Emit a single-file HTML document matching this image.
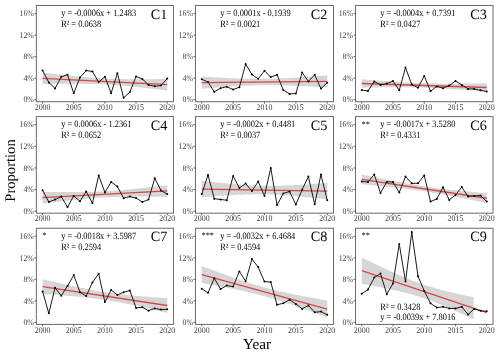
<!DOCTYPE html>
<html><head><meta charset="utf-8"><style>
html,body{margin:0;padding:0;background:#fff;width:500px;height:354px;overflow:hidden}
svg{display:block;will-change:transform}
text{font-family:"Liberation Serif",serif;text-rendering:geometricPrecision}
.ax{font-size:7.9px;fill:#404040}
.eq{font-size:8.4px;fill:#000}
.ti{font-size:14.2px;fill:#000}
.lab{font-size:14.6px;fill:#000}
</style></head><body>
<svg width="500" height="354" viewBox="0 0 500 354">
<polygon points="42.58,72.55 44.14,72.74 45.70,72.92 47.26,73.11 48.81,73.29 50.37,73.47 51.93,73.65 53.49,73.83 55.05,74.01 56.60,74.19 58.16,74.36 59.72,74.54 61.28,74.71 62.84,74.88 64.39,75.06 65.95,75.22 67.51,75.39 69.07,75.56 70.62,75.72 72.18,75.88 73.74,76.04 75.30,76.20 76.86,76.35 78.41,76.51 79.97,76.66 81.53,76.80 83.09,76.95 84.65,77.09 86.20,77.22 87.76,77.35 89.32,77.48 90.88,77.61 92.44,77.73 93.99,77.85 95.55,77.96 97.11,78.06 98.67,78.17 100.23,78.26 101.78,78.36 103.34,78.44 104.90,78.53 106.46,78.60 108.02,78.68 109.57,78.74 111.13,78.81 112.69,78.86 114.25,78.92 115.81,78.97 117.36,79.01 118.92,79.05 120.48,79.08 122.04,79.11 123.60,79.14 125.15,79.16 126.71,79.18 128.27,79.20 129.83,79.22 131.39,79.23 132.94,79.23 134.50,79.24 136.06,79.24 137.62,79.24 139.18,79.24 140.73,79.24 142.29,79.23 143.85,79.22 145.41,79.21 146.96,79.20 148.52,79.19 150.08,79.18 151.64,79.16 153.20,79.15 154.13,79.13 154.75,79.13 156.31,79.11 157.87,79.09 159.43,79.07 160.99,79.05 162.54,79.02 164.10,79.00 165.66,78.98 167.22,78.95 167.22,90.47 165.66,90.28 164.10,90.10 162.54,89.91 160.99,89.73 159.43,89.55 157.87,89.37 156.31,89.19 154.75,89.01 154.13,88.94 153.20,88.83 151.64,88.66 150.08,88.48 148.52,88.31 146.96,88.13 145.41,87.96 143.85,87.79 142.29,87.63 140.73,87.46 139.18,87.30 137.62,87.14 136.06,86.98 134.50,86.82 132.94,86.66 131.39,86.51 129.83,86.36 128.27,86.22 126.71,86.07 125.15,85.93 123.60,85.80 122.04,85.66 120.48,85.54 118.92,85.41 117.36,85.29 115.81,85.17 114.25,85.06 112.69,84.95 111.13,84.85 109.57,84.75 108.02,84.66 106.46,84.57 104.90,84.49 103.34,84.41 101.78,84.34 100.23,84.27 98.67,84.21 97.11,84.15 95.55,84.10 93.99,84.05 92.44,84.01 90.88,83.97 89.32,83.94 87.76,83.91 86.20,83.88 84.65,83.85 83.09,83.83 81.53,83.82 79.97,83.80 78.41,83.79 76.86,83.79 75.30,83.78 73.74,83.78 72.18,83.78 70.62,83.78 69.07,83.78 67.51,83.79 65.95,83.80 64.39,83.81 62.84,83.82 61.28,83.83 59.72,83.84 58.16,83.86 56.60,83.87 55.05,83.89 53.49,83.91 51.93,83.93 50.37,83.95 48.81,83.97 47.26,84.00 45.70,84.02 44.14,84.04 42.58,84.07" fill="#d6d6d6"/>
<line x1="42.58" y1="78.31" x2="167.22" y2="84.71" stroke="#d64646" stroke-width="1.3"/>
<polyline points="42.58,70.50 48.81,82.40 55.05,88.40 61.28,76.80 67.51,74.70 73.74,93.30 79.97,77.50 86.20,70.50 92.44,71.50 98.67,82.10 104.90,76.70 111.13,93.20 117.36,73.30 123.60,97.80 129.83,92.20 136.06,76.50 142.29,78.90 148.52,84.90 154.75,86.30 160.99,85.60 167.22,78.60" fill="none" stroke="#1a1a1a" stroke-width="1.0" stroke-linejoin="round"/>
<circle cx="42.58" cy="70.50" r="1.0" fill="#000"/>
<circle cx="48.81" cy="82.40" r="1.0" fill="#000"/>
<circle cx="55.05" cy="88.40" r="1.0" fill="#000"/>
<circle cx="61.28" cy="76.80" r="1.0" fill="#000"/>
<circle cx="67.51" cy="74.70" r="1.0" fill="#000"/>
<circle cx="73.74" cy="93.30" r="1.0" fill="#000"/>
<circle cx="79.97" cy="77.50" r="1.0" fill="#000"/>
<circle cx="86.20" cy="70.50" r="1.0" fill="#000"/>
<circle cx="92.44" cy="71.50" r="1.0" fill="#000"/>
<circle cx="98.67" cy="82.10" r="1.0" fill="#000"/>
<circle cx="104.90" cy="76.70" r="1.0" fill="#000"/>
<circle cx="111.13" cy="93.20" r="1.0" fill="#000"/>
<circle cx="117.36" cy="73.30" r="1.0" fill="#000"/>
<circle cx="123.60" cy="97.80" r="1.0" fill="#000"/>
<circle cx="129.83" cy="92.20" r="1.0" fill="#000"/>
<circle cx="136.06" cy="76.50" r="1.0" fill="#000"/>
<circle cx="142.29" cy="78.90" r="1.0" fill="#000"/>
<circle cx="148.52" cy="84.90" r="1.0" fill="#000"/>
<circle cx="154.75" cy="86.30" r="1.0" fill="#000"/>
<circle cx="160.99" cy="85.60" r="1.0" fill="#000"/>
<circle cx="167.22" cy="78.60" r="1.0" fill="#000"/>
<rect x="36.35" y="5.50" width="137.10" height="96.20" fill="none" stroke="#6a6a6a" stroke-width="1.0"/>
<line x1="34.35" y1="99.70" x2="36.35" y2="99.70" stroke="#444" stroke-width="0.8"/>
<text transform="translate(33.95,102.40) scale(1,1.1)" text-anchor="end" class="ax">0%</text>
<line x1="34.35" y1="78.17" x2="36.35" y2="78.17" stroke="#444" stroke-width="0.8"/>
<text transform="translate(33.95,80.88) scale(1,1.1)" text-anchor="end" class="ax">4%</text>
<line x1="34.35" y1="56.65" x2="36.35" y2="56.65" stroke="#444" stroke-width="0.8"/>
<text transform="translate(33.95,59.35) scale(1,1.1)" text-anchor="end" class="ax">8%</text>
<line x1="34.35" y1="35.12" x2="36.35" y2="35.12" stroke="#444" stroke-width="0.8"/>
<text transform="translate(33.95,37.83) scale(1,1.1)" text-anchor="end" class="ax">12%</text>
<line x1="34.35" y1="13.60" x2="36.35" y2="13.60" stroke="#444" stroke-width="0.8"/>
<text transform="translate(33.95,16.30) scale(1,1.1)" text-anchor="end" class="ax">16%</text>
<line x1="42.58" y1="101.70" x2="42.58" y2="103.70" stroke="#444" stroke-width="0.8"/>
<text transform="translate(42.58,109.90) scale(1,1.1)" text-anchor="middle" class="ax">2000</text>
<line x1="73.74" y1="101.70" x2="73.74" y2="103.70" stroke="#444" stroke-width="0.8"/>
<text transform="translate(73.74,109.90) scale(1,1.1)" text-anchor="middle" class="ax">2005</text>
<line x1="104.90" y1="101.70" x2="104.90" y2="103.70" stroke="#444" stroke-width="0.8"/>
<text transform="translate(104.90,109.90) scale(1,1.1)" text-anchor="middle" class="ax">2010</text>
<line x1="136.06" y1="101.70" x2="136.06" y2="103.70" stroke="#444" stroke-width="0.8"/>
<text transform="translate(136.06,109.90) scale(1,1.1)" text-anchor="middle" class="ax">2015</text>
<line x1="167.22" y1="101.70" x2="167.22" y2="103.70" stroke="#444" stroke-width="0.8"/>
<text transform="translate(167.22,109.90) scale(1,1.1)" text-anchor="middle" class="ax">2020</text>
<text transform="translate(61.15,16.30) scale(1,1.15)" class="eq">y = -0.0006x + 1.2483</text>
<text transform="translate(61.15,26.80) scale(1,1.15)" class="eq">R² = 0.0638</text>
<text x="167.25" y="18.60" text-anchor="end" class="ti">C1</text>
<polygon points="201.72,76.61 203.29,76.70 204.86,76.80 206.43,76.89 208.00,76.98 209.57,77.07 211.14,77.16 212.71,77.25 214.28,77.34 215.84,77.42 217.41,77.51 218.98,77.59 220.55,77.68 222.12,77.76 223.69,77.84 225.26,77.91 226.82,77.99 228.39,78.06 229.96,78.14 231.53,78.21 233.10,78.27 234.67,78.34 236.24,78.40 237.81,78.46 239.38,78.52 240.94,78.57 242.51,78.62 244.08,78.67 245.65,78.71 247.22,78.75 248.79,78.79 250.36,78.82 251.93,78.85 253.49,78.87 255.06,78.89 256.63,78.90 258.20,78.91 259.77,78.91 261.34,78.91 262.91,78.90 264.48,78.89 266.04,78.87 267.61,78.84 269.18,78.81 270.75,78.78 272.32,78.74 273.89,78.70 275.46,78.65 277.02,78.59 278.59,78.53 280.16,78.47 281.73,78.40 283.30,78.33 284.87,78.26 286.44,78.18 288.01,78.09 289.57,78.01 291.14,77.92 292.71,77.83 294.28,77.73 295.85,77.64 297.42,77.54 298.99,77.44 300.56,77.33 302.12,77.23 303.69,77.12 305.26,77.01 306.83,76.90 308.40,76.78 309.97,76.67 311.54,76.55 313.11,76.44 314.05,76.36 314.68,76.32 316.24,76.20 317.81,76.08 319.38,75.96 320.95,75.83 322.52,75.71 324.09,75.58 325.66,75.46 327.23,75.33 327.23,87.43 325.66,87.34 324.09,87.24 322.52,87.15 320.95,87.06 319.38,86.97 317.81,86.88 316.24,86.79 314.68,86.70 314.05,86.67 313.11,86.61 311.54,86.53 309.97,86.44 308.40,86.36 306.83,86.28 305.26,86.20 303.69,86.12 302.12,86.05 300.56,85.97 298.99,85.90 297.42,85.83 295.85,85.76 294.28,85.70 292.71,85.64 291.14,85.58 289.57,85.52 288.01,85.47 286.44,85.41 284.87,85.37 283.30,85.32 281.73,85.28 280.16,85.25 278.59,85.22 277.02,85.19 275.46,85.17 273.89,85.15 272.32,85.14 270.75,85.13 269.18,85.13 267.61,85.13 266.04,85.14 264.48,85.15 262.91,85.17 261.34,85.19 259.77,85.22 258.20,85.26 256.63,85.30 255.06,85.34 253.49,85.39 251.93,85.45 250.36,85.51 248.79,85.57 247.22,85.64 245.65,85.71 244.08,85.78 242.51,85.86 240.94,85.94 239.38,86.03 237.81,86.12 236.24,86.21 234.67,86.30 233.10,86.40 231.53,86.50 229.96,86.60 228.39,86.71 226.82,86.81 225.26,86.92 223.69,87.03 222.12,87.14 220.55,87.25 218.98,87.37 217.41,87.48 215.84,87.60 214.28,87.72 212.71,87.84 211.14,87.96 209.57,88.08 208.00,88.21 206.43,88.33 204.86,88.45 203.29,88.58 201.72,88.71" fill="#d6d6d6"/>
<line x1="201.72" y1="82.66" x2="327.23" y2="81.38" stroke="#d64646" stroke-width="1.3"/>
<polyline points="201.72,79.20 208.00,82.00 214.28,91.80 220.55,88.20 226.82,86.70 233.10,89.60 239.38,87.20 245.65,64.00 251.93,74.50 258.20,78.80 264.48,70.80 270.75,77.10 277.02,74.80 283.30,90.00 289.57,93.90 295.85,93.60 302.12,72.60 308.40,81.40 314.68,74.80 320.95,88.60 327.23,82.80" fill="none" stroke="#1a1a1a" stroke-width="1.0" stroke-linejoin="round"/>
<circle cx="201.72" cy="79.20" r="1.0" fill="#000"/>
<circle cx="208.00" cy="82.00" r="1.0" fill="#000"/>
<circle cx="214.28" cy="91.80" r="1.0" fill="#000"/>
<circle cx="220.55" cy="88.20" r="1.0" fill="#000"/>
<circle cx="226.82" cy="86.70" r="1.0" fill="#000"/>
<circle cx="233.10" cy="89.60" r="1.0" fill="#000"/>
<circle cx="239.38" cy="87.20" r="1.0" fill="#000"/>
<circle cx="245.65" cy="64.00" r="1.0" fill="#000"/>
<circle cx="251.93" cy="74.50" r="1.0" fill="#000"/>
<circle cx="258.20" cy="78.80" r="1.0" fill="#000"/>
<circle cx="264.48" cy="70.80" r="1.0" fill="#000"/>
<circle cx="270.75" cy="77.10" r="1.0" fill="#000"/>
<circle cx="277.02" cy="74.80" r="1.0" fill="#000"/>
<circle cx="283.30" cy="90.00" r="1.0" fill="#000"/>
<circle cx="289.57" cy="93.90" r="1.0" fill="#000"/>
<circle cx="295.85" cy="93.60" r="1.0" fill="#000"/>
<circle cx="302.12" cy="72.60" r="1.0" fill="#000"/>
<circle cx="308.40" cy="81.40" r="1.0" fill="#000"/>
<circle cx="314.68" cy="74.80" r="1.0" fill="#000"/>
<circle cx="320.95" cy="88.60" r="1.0" fill="#000"/>
<circle cx="327.23" cy="82.80" r="1.0" fill="#000"/>
<rect x="195.45" y="5.50" width="138.05" height="96.20" fill="none" stroke="#6a6a6a" stroke-width="1.0"/>
<line x1="193.45" y1="99.70" x2="195.45" y2="99.70" stroke="#444" stroke-width="0.8"/>
<text transform="translate(193.05,102.40) scale(1,1.1)" text-anchor="end" class="ax">0%</text>
<line x1="193.45" y1="78.17" x2="195.45" y2="78.17" stroke="#444" stroke-width="0.8"/>
<text transform="translate(193.05,80.88) scale(1,1.1)" text-anchor="end" class="ax">4%</text>
<line x1="193.45" y1="56.65" x2="195.45" y2="56.65" stroke="#444" stroke-width="0.8"/>
<text transform="translate(193.05,59.35) scale(1,1.1)" text-anchor="end" class="ax">8%</text>
<line x1="193.45" y1="35.12" x2="195.45" y2="35.12" stroke="#444" stroke-width="0.8"/>
<text transform="translate(193.05,37.83) scale(1,1.1)" text-anchor="end" class="ax">12%</text>
<line x1="193.45" y1="13.60" x2="195.45" y2="13.60" stroke="#444" stroke-width="0.8"/>
<text transform="translate(193.05,16.30) scale(1,1.1)" text-anchor="end" class="ax">16%</text>
<line x1="201.72" y1="101.70" x2="201.72" y2="103.70" stroke="#444" stroke-width="0.8"/>
<text transform="translate(201.72,109.90) scale(1,1.1)" text-anchor="middle" class="ax">2000</text>
<line x1="233.10" y1="101.70" x2="233.10" y2="103.70" stroke="#444" stroke-width="0.8"/>
<text transform="translate(233.10,109.90) scale(1,1.1)" text-anchor="middle" class="ax">2005</text>
<line x1="264.48" y1="101.70" x2="264.48" y2="103.70" stroke="#444" stroke-width="0.8"/>
<text transform="translate(264.48,109.90) scale(1,1.1)" text-anchor="middle" class="ax">2010</text>
<line x1="295.85" y1="101.70" x2="295.85" y2="103.70" stroke="#444" stroke-width="0.8"/>
<text transform="translate(295.85,109.90) scale(1,1.1)" text-anchor="middle" class="ax">2015</text>
<line x1="327.23" y1="101.70" x2="327.23" y2="103.70" stroke="#444" stroke-width="0.8"/>
<text transform="translate(327.23,109.90) scale(1,1.1)" text-anchor="middle" class="ax">2020</text>
<text transform="translate(220.25,16.30) scale(1,1.15)" class="eq">y = 0.0001x - 0.1939</text>
<text transform="translate(220.25,26.80) scale(1,1.15)" class="eq">R² = 0.0021</text>
<text x="327.30" y="18.60" text-anchor="end" class="ti">C2</text>
<polygon points="361.75,79.31 363.31,79.44 364.88,79.57 366.44,79.69 368.00,79.82 369.56,79.94 371.12,80.06 372.69,80.18 374.25,80.31 375.81,80.43 377.38,80.55 378.94,80.66 380.50,80.78 382.06,80.90 383.62,81.02 385.19,81.13 386.75,81.24 388.31,81.36 389.88,81.47 391.44,81.57 393.00,81.68 394.56,81.79 396.12,81.89 397.69,81.99 399.25,82.09 400.81,82.19 402.38,82.29 403.94,82.38 405.50,82.47 407.06,82.56 408.62,82.65 410.19,82.73 411.75,82.81 413.31,82.88 414.88,82.96 416.44,83.03 418.00,83.09 419.56,83.16 421.12,83.22 422.69,83.27 424.25,83.32 425.81,83.37 427.38,83.42 428.94,83.46 430.50,83.49 432.06,83.53 433.62,83.56 435.19,83.58 436.75,83.61 438.31,83.63 439.88,83.65 441.44,83.66 443.00,83.67 444.56,83.68 446.12,83.69 447.69,83.69 449.25,83.69 450.81,83.69 452.38,83.69 453.94,83.69 455.50,83.68 457.06,83.67 458.62,83.67 460.19,83.66 461.75,83.64 463.31,83.63 464.88,83.62 466.44,83.60 468.00,83.58 469.56,83.56 471.12,83.55 472.69,83.53 473.62,83.51 474.25,83.51 475.81,83.48 477.38,83.46 478.94,83.44 480.50,83.42 482.06,83.39 483.62,83.37 485.19,83.34 486.75,83.31 486.75,91.65 485.19,91.52 483.62,91.40 482.06,91.27 480.50,91.15 478.94,91.02 477.38,90.90 475.81,90.78 474.25,90.66 473.62,90.61 472.69,90.54 471.12,90.42 469.56,90.30 468.00,90.18 466.44,90.06 464.88,89.95 463.31,89.83 461.75,89.72 460.19,89.61 458.62,89.50 457.06,89.39 455.50,89.28 453.94,89.17 452.38,89.07 450.81,88.97 449.25,88.87 447.69,88.77 446.12,88.67 444.56,88.58 443.00,88.49 441.44,88.40 439.88,88.32 438.31,88.23 436.75,88.15 435.19,88.08 433.62,88.00 432.06,87.93 430.50,87.87 428.94,87.81 427.38,87.75 425.81,87.69 424.25,87.64 422.69,87.59 421.12,87.55 419.56,87.51 418.00,87.47 416.44,87.43 414.88,87.40 413.31,87.38 411.75,87.35 410.19,87.33 408.62,87.32 407.06,87.30 405.50,87.29 403.94,87.28 402.38,87.27 400.81,87.27 399.25,87.27 397.69,87.27 396.12,87.27 394.56,87.27 393.00,87.28 391.44,87.29 389.88,87.30 388.31,87.31 386.75,87.32 385.19,87.33 383.62,87.35 382.06,87.36 380.50,87.38 378.94,87.40 377.38,87.42 375.81,87.44 374.25,87.46 372.69,87.48 371.12,87.50 369.56,87.52 368.00,87.55 366.44,87.57 364.88,87.60 363.31,87.62 361.75,87.65" fill="#d6d6d6"/>
<line x1="361.75" y1="83.48" x2="486.75" y2="87.48" stroke="#d64646" stroke-width="1.3"/>
<polyline points="361.75,90.00 368.00,91.00 374.25,81.40 380.50,85.00 386.75,83.60 393.00,81.00 399.25,90.30 405.50,67.60 411.75,84.60 418.00,87.70 424.25,75.90 430.50,91.30 436.75,86.40 443.00,88.20 449.25,85.60 455.50,81.00 461.75,84.90 468.00,88.90 474.25,88.90 480.50,90.30 486.75,91.50" fill="none" stroke="#1a1a1a" stroke-width="1.0" stroke-linejoin="round"/>
<circle cx="361.75" cy="90.00" r="1.0" fill="#000"/>
<circle cx="368.00" cy="91.00" r="1.0" fill="#000"/>
<circle cx="374.25" cy="81.40" r="1.0" fill="#000"/>
<circle cx="380.50" cy="85.00" r="1.0" fill="#000"/>
<circle cx="386.75" cy="83.60" r="1.0" fill="#000"/>
<circle cx="393.00" cy="81.00" r="1.0" fill="#000"/>
<circle cx="399.25" cy="90.30" r="1.0" fill="#000"/>
<circle cx="405.50" cy="67.60" r="1.0" fill="#000"/>
<circle cx="411.75" cy="84.60" r="1.0" fill="#000"/>
<circle cx="418.00" cy="87.70" r="1.0" fill="#000"/>
<circle cx="424.25" cy="75.90" r="1.0" fill="#000"/>
<circle cx="430.50" cy="91.30" r="1.0" fill="#000"/>
<circle cx="436.75" cy="86.40" r="1.0" fill="#000"/>
<circle cx="443.00" cy="88.20" r="1.0" fill="#000"/>
<circle cx="449.25" cy="85.60" r="1.0" fill="#000"/>
<circle cx="455.50" cy="81.00" r="1.0" fill="#000"/>
<circle cx="461.75" cy="84.90" r="1.0" fill="#000"/>
<circle cx="468.00" cy="88.90" r="1.0" fill="#000"/>
<circle cx="474.25" cy="88.90" r="1.0" fill="#000"/>
<circle cx="480.50" cy="90.30" r="1.0" fill="#000"/>
<circle cx="486.75" cy="91.50" r="1.0" fill="#000"/>
<rect x="355.50" y="5.50" width="137.50" height="96.20" fill="none" stroke="#6a6a6a" stroke-width="1.0"/>
<line x1="353.50" y1="99.70" x2="355.50" y2="99.70" stroke="#444" stroke-width="0.8"/>
<text transform="translate(353.10,102.40) scale(1,1.1)" text-anchor="end" class="ax">0%</text>
<line x1="353.50" y1="78.17" x2="355.50" y2="78.17" stroke="#444" stroke-width="0.8"/>
<text transform="translate(353.10,80.88) scale(1,1.1)" text-anchor="end" class="ax">4%</text>
<line x1="353.50" y1="56.65" x2="355.50" y2="56.65" stroke="#444" stroke-width="0.8"/>
<text transform="translate(353.10,59.35) scale(1,1.1)" text-anchor="end" class="ax">8%</text>
<line x1="353.50" y1="35.12" x2="355.50" y2="35.12" stroke="#444" stroke-width="0.8"/>
<text transform="translate(353.10,37.83) scale(1,1.1)" text-anchor="end" class="ax">12%</text>
<line x1="353.50" y1="13.60" x2="355.50" y2="13.60" stroke="#444" stroke-width="0.8"/>
<text transform="translate(353.10,16.30) scale(1,1.1)" text-anchor="end" class="ax">16%</text>
<line x1="361.75" y1="101.70" x2="361.75" y2="103.70" stroke="#444" stroke-width="0.8"/>
<text transform="translate(361.75,109.90) scale(1,1.1)" text-anchor="middle" class="ax">2000</text>
<line x1="393.00" y1="101.70" x2="393.00" y2="103.70" stroke="#444" stroke-width="0.8"/>
<text transform="translate(393.00,109.90) scale(1,1.1)" text-anchor="middle" class="ax">2005</text>
<line x1="424.25" y1="101.70" x2="424.25" y2="103.70" stroke="#444" stroke-width="0.8"/>
<text transform="translate(424.25,109.90) scale(1,1.1)" text-anchor="middle" class="ax">2010</text>
<line x1="455.50" y1="101.70" x2="455.50" y2="103.70" stroke="#444" stroke-width="0.8"/>
<text transform="translate(455.50,109.90) scale(1,1.1)" text-anchor="middle" class="ax">2015</text>
<line x1="486.75" y1="101.70" x2="486.75" y2="103.70" stroke="#444" stroke-width="0.8"/>
<text transform="translate(486.75,109.90) scale(1,1.1)" text-anchor="middle" class="ax">2020</text>
<text transform="translate(380.30,16.30) scale(1,1.15)" class="eq">y = -0.0004x + 0.7391</text>
<text transform="translate(380.30,26.80) scale(1,1.15)" class="eq">R² = 0.0427</text>
<text x="486.80" y="18.60" text-anchor="end" class="ti">C3</text>
<polygon points="42.58,191.81 44.14,191.83 45.70,191.86 47.26,191.88 48.81,191.90 50.37,191.92 51.93,191.94 53.49,191.95 55.05,191.97 56.60,191.99 58.16,192.00 59.72,192.01 61.28,192.03 62.84,192.04 64.39,192.04 65.95,192.05 67.51,192.06 69.07,192.06 70.62,192.06 72.18,192.06 73.74,192.06 75.30,192.05 76.86,192.05 78.41,192.03 79.97,192.02 81.53,192.00 83.09,191.99 84.65,191.96 86.20,191.94 87.76,191.91 89.32,191.87 90.88,191.83 92.44,191.79 93.99,191.74 95.55,191.69 97.11,191.64 98.67,191.57 100.23,191.51 101.78,191.44 103.34,191.36 104.90,191.28 106.46,191.19 108.02,191.10 109.57,191.00 111.13,190.90 112.69,190.79 114.25,190.68 115.81,190.56 117.36,190.44 118.92,190.32 120.48,190.19 122.04,190.05 123.60,189.91 125.15,189.77 126.71,189.63 128.27,189.48 129.83,189.32 131.39,189.17 132.94,189.01 134.50,188.85 136.06,188.69 137.62,188.52 139.18,188.35 140.73,188.18 142.29,188.01 143.85,187.84 145.41,187.66 146.96,187.48 148.52,187.31 150.08,187.13 151.64,186.94 153.20,186.76 154.13,186.65 154.75,186.58 156.31,186.39 157.87,186.21 159.43,186.02 160.99,185.83 162.54,185.64 164.10,185.45 165.66,185.26 167.22,185.07 167.22,196.85 165.66,196.82 164.10,196.80 162.54,196.78 160.99,196.76 159.43,196.74 157.87,196.72 156.31,196.70 154.75,196.69 154.13,196.68 153.20,196.67 151.64,196.66 150.08,196.64 148.52,196.63 146.96,196.62 145.41,196.61 143.85,196.61 142.29,196.60 140.73,196.60 139.18,196.60 137.62,196.60 136.06,196.60 134.50,196.60 132.94,196.61 131.39,196.62 129.83,196.64 128.27,196.65 126.71,196.67 125.15,196.70 123.60,196.72 122.04,196.75 120.48,196.79 118.92,196.82 117.36,196.87 115.81,196.91 114.25,196.97 112.69,197.02 111.13,197.08 109.57,197.15 108.02,197.22 106.46,197.30 104.90,197.38 103.34,197.47 101.78,197.56 100.23,197.66 98.67,197.76 97.11,197.86 95.55,197.98 93.99,198.09 92.44,198.22 90.88,198.34 89.32,198.47 87.76,198.61 86.20,198.74 84.65,198.89 83.09,199.03 81.53,199.18 79.97,199.33 78.41,199.49 76.86,199.65 75.30,199.81 73.74,199.97 72.18,200.14 70.62,200.30 69.07,200.47 67.51,200.65 65.95,200.82 64.39,201.00 62.84,201.17 61.28,201.35 59.72,201.53 58.16,201.71 56.60,201.90 55.05,202.08 53.49,202.27 51.93,202.45 50.37,202.64 48.81,202.83 47.26,203.02 45.70,203.21 44.14,203.40 42.58,203.59" fill="#d6d6d6"/>
<line x1="42.58" y1="197.70" x2="167.22" y2="190.96" stroke="#d64646" stroke-width="1.3"/>
<polyline points="42.58,190.20 48.81,202.00 55.05,199.60 61.28,196.60 67.51,207.10 73.74,195.90 79.97,201.30 86.20,191.50 92.44,203.20 98.67,175.40 104.90,192.40 111.13,181.90 117.36,186.50 123.60,198.20 129.83,196.60 136.06,198.00 142.29,202.00 148.52,199.60 154.75,178.30 160.99,190.50 167.22,194.10" fill="none" stroke="#1a1a1a" stroke-width="1.0" stroke-linejoin="round"/>
<circle cx="42.58" cy="190.20" r="1.0" fill="#000"/>
<circle cx="48.81" cy="202.00" r="1.0" fill="#000"/>
<circle cx="55.05" cy="199.60" r="1.0" fill="#000"/>
<circle cx="61.28" cy="196.60" r="1.0" fill="#000"/>
<circle cx="67.51" cy="207.10" r="1.0" fill="#000"/>
<circle cx="73.74" cy="195.90" r="1.0" fill="#000"/>
<circle cx="79.97" cy="201.30" r="1.0" fill="#000"/>
<circle cx="86.20" cy="191.50" r="1.0" fill="#000"/>
<circle cx="92.44" cy="203.20" r="1.0" fill="#000"/>
<circle cx="98.67" cy="175.40" r="1.0" fill="#000"/>
<circle cx="104.90" cy="192.40" r="1.0" fill="#000"/>
<circle cx="111.13" cy="181.90" r="1.0" fill="#000"/>
<circle cx="117.36" cy="186.50" r="1.0" fill="#000"/>
<circle cx="123.60" cy="198.20" r="1.0" fill="#000"/>
<circle cx="129.83" cy="196.60" r="1.0" fill="#000"/>
<circle cx="136.06" cy="198.00" r="1.0" fill="#000"/>
<circle cx="142.29" cy="202.00" r="1.0" fill="#000"/>
<circle cx="148.52" cy="199.60" r="1.0" fill="#000"/>
<circle cx="154.75" cy="178.30" r="1.0" fill="#000"/>
<circle cx="160.99" cy="190.50" r="1.0" fill="#000"/>
<circle cx="167.22" cy="194.10" r="1.0" fill="#000"/>
<rect x="36.35" y="116.60" width="137.10" height="96.60" fill="none" stroke="#6a6a6a" stroke-width="1.0"/>
<line x1="34.35" y1="211.20" x2="36.35" y2="211.20" stroke="#444" stroke-width="0.8"/>
<text transform="translate(33.95,213.90) scale(1,1.1)" text-anchor="end" class="ax">0%</text>
<line x1="34.35" y1="189.57" x2="36.35" y2="189.57" stroke="#444" stroke-width="0.8"/>
<text transform="translate(33.95,192.27) scale(1,1.1)" text-anchor="end" class="ax">4%</text>
<line x1="34.35" y1="167.95" x2="36.35" y2="167.95" stroke="#444" stroke-width="0.8"/>
<text transform="translate(33.95,170.65) scale(1,1.1)" text-anchor="end" class="ax">8%</text>
<line x1="34.35" y1="146.32" x2="36.35" y2="146.32" stroke="#444" stroke-width="0.8"/>
<text transform="translate(33.95,149.02) scale(1,1.1)" text-anchor="end" class="ax">12%</text>
<line x1="34.35" y1="124.70" x2="36.35" y2="124.70" stroke="#444" stroke-width="0.8"/>
<text transform="translate(33.95,127.40) scale(1,1.1)" text-anchor="end" class="ax">16%</text>
<line x1="42.58" y1="213.20" x2="42.58" y2="215.20" stroke="#444" stroke-width="0.8"/>
<text transform="translate(42.58,221.40) scale(1,1.1)" text-anchor="middle" class="ax">2000</text>
<line x1="73.74" y1="213.20" x2="73.74" y2="215.20" stroke="#444" stroke-width="0.8"/>
<text transform="translate(73.74,221.40) scale(1,1.1)" text-anchor="middle" class="ax">2005</text>
<line x1="104.90" y1="213.20" x2="104.90" y2="215.20" stroke="#444" stroke-width="0.8"/>
<text transform="translate(104.90,221.40) scale(1,1.1)" text-anchor="middle" class="ax">2010</text>
<line x1="136.06" y1="213.20" x2="136.06" y2="215.20" stroke="#444" stroke-width="0.8"/>
<text transform="translate(136.06,221.40) scale(1,1.1)" text-anchor="middle" class="ax">2015</text>
<line x1="167.22" y1="213.20" x2="167.22" y2="215.20" stroke="#444" stroke-width="0.8"/>
<text transform="translate(167.22,221.40) scale(1,1.1)" text-anchor="middle" class="ax">2020</text>
<text transform="translate(61.15,127.40) scale(1,1.15)" class="eq">y = 0.0006x - 1.2361</text>
<text transform="translate(61.15,137.90) scale(1,1.15)" class="eq">R² = 0.0652</text>
<text x="167.25" y="129.70" text-anchor="end" class="ti">C4</text>
<polygon points="201.72,180.82 203.29,180.99 204.86,181.17 206.43,181.34 208.00,181.51 209.57,181.68 211.14,181.85 212.71,182.02 214.28,182.19 215.84,182.35 217.41,182.52 218.98,182.68 220.55,182.84 222.12,182.99 223.69,183.15 225.26,183.30 226.82,183.45 228.39,183.60 229.96,183.75 231.53,183.89 233.10,184.03 234.67,184.17 236.24,184.30 237.81,184.43 239.38,184.55 240.94,184.67 242.51,184.79 244.08,184.90 245.65,185.00 247.22,185.11 248.79,185.20 250.36,185.29 251.93,185.37 253.49,185.45 255.06,185.52 256.63,185.59 258.20,185.65 259.77,185.70 261.34,185.74 262.91,185.78 264.48,185.81 266.04,185.83 267.61,185.84 269.18,185.85 270.75,185.85 272.32,185.84 273.89,185.83 275.46,185.81 277.02,185.78 278.59,185.75 280.16,185.71 281.73,185.67 283.30,185.62 284.87,185.56 286.44,185.50 288.01,185.44 289.57,185.37 291.14,185.30 292.71,185.22 294.28,185.14 295.85,185.05 297.42,184.96 298.99,184.87 300.56,184.78 302.12,184.68 303.69,184.58 305.26,184.48 306.83,184.38 308.40,184.27 309.97,184.16 311.54,184.05 313.11,183.94 314.05,183.87 314.68,183.83 316.24,183.71 317.81,183.59 319.38,183.47 320.95,183.35 322.52,183.23 324.09,183.11 325.66,182.99 327.23,182.86 327.23,199.32 325.66,199.14 324.09,198.97 322.52,198.79 320.95,198.62 319.38,198.45 317.81,198.28 316.24,198.11 314.68,197.95 314.05,197.88 313.11,197.78 311.54,197.62 309.97,197.46 308.40,197.30 306.83,197.14 305.26,196.98 303.69,196.83 302.12,196.68 300.56,196.53 298.99,196.39 297.42,196.24 295.85,196.10 294.28,195.97 292.71,195.84 291.14,195.71 289.57,195.58 288.01,195.46 286.44,195.35 284.87,195.24 283.30,195.13 281.73,195.03 280.16,194.93 278.59,194.84 277.02,194.76 275.46,194.68 273.89,194.61 272.32,194.55 270.75,194.49 269.18,194.44 267.61,194.39 266.04,194.36 264.48,194.33 262.91,194.31 261.34,194.29 259.77,194.28 258.20,194.28 256.63,194.29 255.06,194.30 253.49,194.32 251.93,194.35 250.36,194.38 248.79,194.42 247.22,194.47 245.65,194.51 244.08,194.57 242.51,194.63 240.94,194.69 239.38,194.76 237.81,194.84 236.24,194.91 234.67,195.00 233.10,195.08 231.53,195.17 229.96,195.26 228.39,195.35 226.82,195.45 225.26,195.55 223.69,195.65 222.12,195.76 220.55,195.86 218.98,195.97 217.41,196.08 215.84,196.19 214.28,196.31 212.71,196.42 211.14,196.54 209.57,196.66 208.00,196.78 206.43,196.90 204.86,197.02 203.29,197.15 201.72,197.27" fill="#d6d6d6"/>
<line x1="201.72" y1="189.04" x2="327.23" y2="191.09" stroke="#d64646" stroke-width="1.3"/>
<polyline points="201.72,194.10 208.00,175.00 214.28,198.70 220.55,199.50 226.82,200.20 233.10,176.10 239.38,187.90 245.65,183.60 251.93,191.00 258.20,181.60 264.48,195.90 270.75,167.90 277.02,205.10 283.30,193.40 289.57,191.50 295.85,204.60 302.12,189.70 308.40,176.60 314.68,204.30 320.95,174.50 327.23,200.20" fill="none" stroke="#1a1a1a" stroke-width="1.0" stroke-linejoin="round"/>
<circle cx="201.72" cy="194.10" r="1.0" fill="#000"/>
<circle cx="208.00" cy="175.00" r="1.0" fill="#000"/>
<circle cx="214.28" cy="198.70" r="1.0" fill="#000"/>
<circle cx="220.55" cy="199.50" r="1.0" fill="#000"/>
<circle cx="226.82" cy="200.20" r="1.0" fill="#000"/>
<circle cx="233.10" cy="176.10" r="1.0" fill="#000"/>
<circle cx="239.38" cy="187.90" r="1.0" fill="#000"/>
<circle cx="245.65" cy="183.60" r="1.0" fill="#000"/>
<circle cx="251.93" cy="191.00" r="1.0" fill="#000"/>
<circle cx="258.20" cy="181.60" r="1.0" fill="#000"/>
<circle cx="264.48" cy="195.90" r="1.0" fill="#000"/>
<circle cx="270.75" cy="167.90" r="1.0" fill="#000"/>
<circle cx="277.02" cy="205.10" r="1.0" fill="#000"/>
<circle cx="283.30" cy="193.40" r="1.0" fill="#000"/>
<circle cx="289.57" cy="191.50" r="1.0" fill="#000"/>
<circle cx="295.85" cy="204.60" r="1.0" fill="#000"/>
<circle cx="302.12" cy="189.70" r="1.0" fill="#000"/>
<circle cx="308.40" cy="176.60" r="1.0" fill="#000"/>
<circle cx="314.68" cy="204.30" r="1.0" fill="#000"/>
<circle cx="320.95" cy="174.50" r="1.0" fill="#000"/>
<circle cx="327.23" cy="200.20" r="1.0" fill="#000"/>
<rect x="195.45" y="116.60" width="138.05" height="96.60" fill="none" stroke="#6a6a6a" stroke-width="1.0"/>
<line x1="193.45" y1="211.20" x2="195.45" y2="211.20" stroke="#444" stroke-width="0.8"/>
<text transform="translate(193.05,213.90) scale(1,1.1)" text-anchor="end" class="ax">0%</text>
<line x1="193.45" y1="189.57" x2="195.45" y2="189.57" stroke="#444" stroke-width="0.8"/>
<text transform="translate(193.05,192.27) scale(1,1.1)" text-anchor="end" class="ax">4%</text>
<line x1="193.45" y1="167.95" x2="195.45" y2="167.95" stroke="#444" stroke-width="0.8"/>
<text transform="translate(193.05,170.65) scale(1,1.1)" text-anchor="end" class="ax">8%</text>
<line x1="193.45" y1="146.32" x2="195.45" y2="146.32" stroke="#444" stroke-width="0.8"/>
<text transform="translate(193.05,149.02) scale(1,1.1)" text-anchor="end" class="ax">12%</text>
<line x1="193.45" y1="124.70" x2="195.45" y2="124.70" stroke="#444" stroke-width="0.8"/>
<text transform="translate(193.05,127.40) scale(1,1.1)" text-anchor="end" class="ax">16%</text>
<line x1="201.72" y1="213.20" x2="201.72" y2="215.20" stroke="#444" stroke-width="0.8"/>
<text transform="translate(201.72,221.40) scale(1,1.1)" text-anchor="middle" class="ax">2000</text>
<line x1="233.10" y1="213.20" x2="233.10" y2="215.20" stroke="#444" stroke-width="0.8"/>
<text transform="translate(233.10,221.40) scale(1,1.1)" text-anchor="middle" class="ax">2005</text>
<line x1="264.48" y1="213.20" x2="264.48" y2="215.20" stroke="#444" stroke-width="0.8"/>
<text transform="translate(264.48,221.40) scale(1,1.1)" text-anchor="middle" class="ax">2010</text>
<line x1="295.85" y1="213.20" x2="295.85" y2="215.20" stroke="#444" stroke-width="0.8"/>
<text transform="translate(295.85,221.40) scale(1,1.1)" text-anchor="middle" class="ax">2015</text>
<line x1="327.23" y1="213.20" x2="327.23" y2="215.20" stroke="#444" stroke-width="0.8"/>
<text transform="translate(327.23,221.40) scale(1,1.1)" text-anchor="middle" class="ax">2020</text>
<text transform="translate(220.25,127.40) scale(1,1.15)" class="eq">y = -0.0002x + 0.4481</text>
<text transform="translate(220.25,137.90) scale(1,1.15)" class="eq">R² = 0.0037</text>
<text x="327.30" y="129.70" text-anchor="end" class="ti">C5</text>
<polygon points="361.75,174.51 363.31,174.83 364.88,175.16 366.44,175.48 368.00,175.80 369.56,176.12 371.12,176.44 372.69,176.77 374.25,177.08 375.81,177.40 377.38,177.72 378.94,178.04 380.50,178.35 382.06,178.67 383.62,178.98 385.19,179.29 386.75,179.60 388.31,179.91 389.88,180.22 391.44,180.52 393.00,180.82 394.56,181.12 396.12,181.42 397.69,181.72 399.25,182.02 400.81,182.31 402.38,182.60 403.94,182.88 405.50,183.17 407.06,183.45 408.62,183.72 410.19,184.00 411.75,184.27 413.31,184.54 414.88,184.80 416.44,185.06 418.00,185.31 419.56,185.56 421.12,185.81 422.69,186.05 424.25,186.29 425.81,186.52 427.38,186.75 428.94,186.98 430.50,187.20 432.06,187.42 433.62,187.63 435.19,187.84 436.75,188.04 438.31,188.24 439.88,188.44 441.44,188.63 443.00,188.83 444.56,189.01 446.12,189.20 447.69,189.38 449.25,189.56 450.81,189.74 452.38,189.91 453.94,190.09 455.50,190.26 457.06,190.42 458.62,190.59 460.19,190.76 461.75,190.92 463.31,191.08 464.88,191.24 466.44,191.40 468.00,191.56 469.56,191.71 471.12,191.87 472.69,192.02 473.62,192.12 474.25,192.18 475.81,192.33 477.38,192.48 478.94,192.63 480.50,192.78 482.06,192.93 483.62,193.08 485.19,193.22 486.75,193.37 486.75,203.12 485.19,202.80 483.62,202.47 482.06,202.15 480.50,201.83 478.94,201.50 477.38,201.18 475.81,200.86 474.25,200.54 473.62,200.42 472.69,200.23 471.12,199.91 469.56,199.59 468.00,199.28 466.44,198.96 464.88,198.65 463.31,198.34 461.75,198.03 460.19,197.72 458.62,197.41 457.06,197.11 455.50,196.81 453.94,196.50 452.38,196.20 450.81,195.91 449.25,195.61 447.69,195.32 446.12,195.03 444.56,194.75 443.00,194.46 441.44,194.18 439.88,193.90 438.31,193.63 436.75,193.36 435.19,193.09 433.62,192.83 432.06,192.57 430.50,192.32 428.94,192.07 427.38,191.82 425.81,191.58 424.25,191.34 422.69,191.11 421.12,190.88 419.56,190.65 418.00,190.43 416.44,190.21 414.88,190.00 413.31,189.79 411.75,189.59 410.19,189.39 408.62,189.19 407.06,188.99 405.50,188.80 403.94,188.61 402.38,188.43 400.81,188.25 399.25,188.07 397.69,187.89 396.12,187.72 394.56,187.54 393.00,187.37 391.44,187.20 389.88,187.04 388.31,186.87 386.75,186.71 385.19,186.55 383.62,186.39 382.06,186.23 380.50,186.07 378.94,185.91 377.38,185.76 375.81,185.61 374.25,185.45 372.69,185.30 371.12,185.15 369.56,185.00 368.00,184.85 366.44,184.70 364.88,184.55 363.31,184.40 361.75,184.26" fill="#d6d6d6"/>
<line x1="361.75" y1="179.38" x2="486.75" y2="198.25" stroke="#d64646" stroke-width="1.3"/>
<polyline points="361.75,181.50 368.00,182.00 374.25,174.50 380.50,192.90 386.75,181.90 393.00,181.90 399.25,192.50 405.50,176.60 411.75,183.30 418.00,183.30 424.25,175.40 430.50,201.60 436.75,199.00 443.00,187.30 449.25,199.90 455.50,195.00 461.75,187.10 468.00,196.40 474.25,195.90 480.50,195.50 486.75,201.60" fill="none" stroke="#1a1a1a" stroke-width="1.0" stroke-linejoin="round"/>
<circle cx="361.75" cy="181.50" r="1.0" fill="#000"/>
<circle cx="368.00" cy="182.00" r="1.0" fill="#000"/>
<circle cx="374.25" cy="174.50" r="1.0" fill="#000"/>
<circle cx="380.50" cy="192.90" r="1.0" fill="#000"/>
<circle cx="386.75" cy="181.90" r="1.0" fill="#000"/>
<circle cx="393.00" cy="181.90" r="1.0" fill="#000"/>
<circle cx="399.25" cy="192.50" r="1.0" fill="#000"/>
<circle cx="405.50" cy="176.60" r="1.0" fill="#000"/>
<circle cx="411.75" cy="183.30" r="1.0" fill="#000"/>
<circle cx="418.00" cy="183.30" r="1.0" fill="#000"/>
<circle cx="424.25" cy="175.40" r="1.0" fill="#000"/>
<circle cx="430.50" cy="201.60" r="1.0" fill="#000"/>
<circle cx="436.75" cy="199.00" r="1.0" fill="#000"/>
<circle cx="443.00" cy="187.30" r="1.0" fill="#000"/>
<circle cx="449.25" cy="199.90" r="1.0" fill="#000"/>
<circle cx="455.50" cy="195.00" r="1.0" fill="#000"/>
<circle cx="461.75" cy="187.10" r="1.0" fill="#000"/>
<circle cx="468.00" cy="196.40" r="1.0" fill="#000"/>
<circle cx="474.25" cy="195.90" r="1.0" fill="#000"/>
<circle cx="480.50" cy="195.50" r="1.0" fill="#000"/>
<circle cx="486.75" cy="201.60" r="1.0" fill="#000"/>
<rect x="355.50" y="116.60" width="137.50" height="96.60" fill="none" stroke="#6a6a6a" stroke-width="1.0"/>
<line x1="353.50" y1="211.20" x2="355.50" y2="211.20" stroke="#444" stroke-width="0.8"/>
<text transform="translate(353.10,213.90) scale(1,1.1)" text-anchor="end" class="ax">0%</text>
<line x1="353.50" y1="189.57" x2="355.50" y2="189.57" stroke="#444" stroke-width="0.8"/>
<text transform="translate(353.10,192.27) scale(1,1.1)" text-anchor="end" class="ax">4%</text>
<line x1="353.50" y1="167.95" x2="355.50" y2="167.95" stroke="#444" stroke-width="0.8"/>
<text transform="translate(353.10,170.65) scale(1,1.1)" text-anchor="end" class="ax">8%</text>
<line x1="353.50" y1="146.32" x2="355.50" y2="146.32" stroke="#444" stroke-width="0.8"/>
<text transform="translate(353.10,149.02) scale(1,1.1)" text-anchor="end" class="ax">12%</text>
<line x1="353.50" y1="124.70" x2="355.50" y2="124.70" stroke="#444" stroke-width="0.8"/>
<text transform="translate(353.10,127.40) scale(1,1.1)" text-anchor="end" class="ax">16%</text>
<line x1="361.75" y1="213.20" x2="361.75" y2="215.20" stroke="#444" stroke-width="0.8"/>
<text transform="translate(361.75,221.40) scale(1,1.1)" text-anchor="middle" class="ax">2000</text>
<line x1="393.00" y1="213.20" x2="393.00" y2="215.20" stroke="#444" stroke-width="0.8"/>
<text transform="translate(393.00,221.40) scale(1,1.1)" text-anchor="middle" class="ax">2005</text>
<line x1="424.25" y1="213.20" x2="424.25" y2="215.20" stroke="#444" stroke-width="0.8"/>
<text transform="translate(424.25,221.40) scale(1,1.1)" text-anchor="middle" class="ax">2010</text>
<line x1="455.50" y1="213.20" x2="455.50" y2="215.20" stroke="#444" stroke-width="0.8"/>
<text transform="translate(455.50,221.40) scale(1,1.1)" text-anchor="middle" class="ax">2015</text>
<line x1="486.75" y1="213.20" x2="486.75" y2="215.20" stroke="#444" stroke-width="0.8"/>
<text transform="translate(486.75,221.40) scale(1,1.1)" text-anchor="middle" class="ax">2020</text>
<text transform="translate(380.30,127.40) scale(1,1.15)" class="eq">y = -0.0017x + 3.5280</text>
<text transform="translate(380.30,137.90) scale(1,1.15)" class="eq">R² = 0.4331</text>
<text x="361.50" y="126.50" class="eq">**</text>
<text x="486.80" y="129.70" text-anchor="end" class="ti">C6</text>
<polygon points="42.58,279.16 44.14,279.53 45.70,279.90 47.26,280.27 48.81,280.64 50.37,281.00 51.93,281.37 53.49,281.74 55.05,282.10 56.60,282.46 58.16,282.82 59.72,283.18 61.28,283.54 62.84,283.90 64.39,284.25 65.95,284.60 67.51,284.95 69.07,285.30 70.62,285.64 72.18,285.98 73.74,286.32 75.30,286.66 76.86,286.99 78.41,287.32 79.97,287.65 81.53,287.97 83.09,288.29 84.65,288.60 86.20,288.91 87.76,289.22 89.32,289.52 90.88,289.81 92.44,290.10 93.99,290.38 95.55,290.66 97.11,290.93 98.67,291.20 100.23,291.46 101.78,291.71 103.34,291.96 104.90,292.20 106.46,292.43 108.02,292.66 109.57,292.88 111.13,293.09 112.69,293.30 114.25,293.50 115.81,293.70 117.36,293.89 118.92,294.07 120.48,294.25 122.04,294.43 123.60,294.60 125.15,294.76 126.71,294.92 128.27,295.07 129.83,295.23 131.39,295.37 132.94,295.52 134.50,295.66 136.06,295.80 137.62,295.93 139.18,296.06 140.73,296.19 142.29,296.32 143.85,296.44 145.41,296.56 146.96,296.68 148.52,296.80 150.08,296.92 151.64,297.03 153.20,297.14 154.13,297.21 154.75,297.25 156.31,297.36 157.87,297.47 159.43,297.58 160.99,297.69 162.54,297.79 164.10,297.89 165.66,298.00 167.22,298.10 167.22,312.92 165.66,312.55 164.10,312.18 162.54,311.81 160.99,311.44 159.43,311.07 157.87,310.71 156.31,310.34 154.75,309.98 154.13,309.83 153.20,309.61 151.64,309.25 150.08,308.89 148.52,308.54 146.96,308.18 145.41,307.83 143.85,307.47 142.29,307.13 140.73,306.78 139.18,306.43 137.62,306.09 136.06,305.75 134.50,305.42 132.94,305.08 131.39,304.75 129.83,304.43 128.27,304.11 126.71,303.79 125.15,303.47 123.60,303.16 122.04,302.86 120.48,302.56 118.92,302.26 117.36,301.98 115.81,301.69 114.25,301.41 112.69,301.14 111.13,300.88 109.57,300.62 108.02,300.36 106.46,300.12 104.90,299.88 103.34,299.64 101.78,299.42 100.23,299.20 98.67,298.98 97.11,298.77 95.55,298.57 93.99,298.38 92.44,298.19 90.88,298.00 89.32,297.82 87.76,297.65 86.20,297.48 84.65,297.32 83.09,297.16 81.53,297.00 79.97,296.85 78.41,296.70 76.86,296.56 75.30,296.42 73.74,296.28 72.18,296.15 70.62,296.01 69.07,295.89 67.51,295.76 65.95,295.64 64.39,295.51 62.84,295.39 61.28,295.28 59.72,295.16 58.16,295.05 56.60,294.93 55.05,294.82 53.49,294.71 51.93,294.60 50.37,294.50 48.81,294.39 47.26,294.29 45.70,294.18 44.14,294.08 42.58,293.98" fill="#d6d6d6"/>
<line x1="42.58" y1="286.57" x2="167.22" y2="305.51" stroke="#d64646" stroke-width="1.3"/>
<polyline points="42.58,291.40 48.81,313.30 55.05,287.70 61.28,295.80 67.51,286.00 73.74,275.10 79.97,292.30 86.20,296.10 92.44,282.50 98.67,273.70 104.90,302.10 111.13,290.00 117.36,294.90 123.60,292.30 129.83,290.50 136.06,307.90 142.29,307.20 148.52,310.70 154.75,308.40 160.99,309.60 167.22,309.30" fill="none" stroke="#1a1a1a" stroke-width="1.0" stroke-linejoin="round"/>
<circle cx="42.58" cy="291.40" r="1.0" fill="#000"/>
<circle cx="48.81" cy="313.30" r="1.0" fill="#000"/>
<circle cx="55.05" cy="287.70" r="1.0" fill="#000"/>
<circle cx="61.28" cy="295.80" r="1.0" fill="#000"/>
<circle cx="67.51" cy="286.00" r="1.0" fill="#000"/>
<circle cx="73.74" cy="275.10" r="1.0" fill="#000"/>
<circle cx="79.97" cy="292.30" r="1.0" fill="#000"/>
<circle cx="86.20" cy="296.10" r="1.0" fill="#000"/>
<circle cx="92.44" cy="282.50" r="1.0" fill="#000"/>
<circle cx="98.67" cy="273.70" r="1.0" fill="#000"/>
<circle cx="104.90" cy="302.10" r="1.0" fill="#000"/>
<circle cx="111.13" cy="290.00" r="1.0" fill="#000"/>
<circle cx="117.36" cy="294.90" r="1.0" fill="#000"/>
<circle cx="123.60" cy="292.30" r="1.0" fill="#000"/>
<circle cx="129.83" cy="290.50" r="1.0" fill="#000"/>
<circle cx="136.06" cy="307.90" r="1.0" fill="#000"/>
<circle cx="142.29" cy="307.20" r="1.0" fill="#000"/>
<circle cx="148.52" cy="310.70" r="1.0" fill="#000"/>
<circle cx="154.75" cy="308.40" r="1.0" fill="#000"/>
<circle cx="160.99" cy="309.60" r="1.0" fill="#000"/>
<circle cx="167.22" cy="309.30" r="1.0" fill="#000"/>
<rect x="36.35" y="228.25" width="137.10" height="96.15" fill="none" stroke="#6a6a6a" stroke-width="1.0"/>
<line x1="34.35" y1="322.40" x2="36.35" y2="322.40" stroke="#444" stroke-width="0.8"/>
<text transform="translate(33.95,325.10) scale(1,1.1)" text-anchor="end" class="ax">0%</text>
<line x1="34.35" y1="300.89" x2="36.35" y2="300.89" stroke="#444" stroke-width="0.8"/>
<text transform="translate(33.95,303.59) scale(1,1.1)" text-anchor="end" class="ax">4%</text>
<line x1="34.35" y1="279.38" x2="36.35" y2="279.38" stroke="#444" stroke-width="0.8"/>
<text transform="translate(33.95,282.07) scale(1,1.1)" text-anchor="end" class="ax">8%</text>
<line x1="34.35" y1="257.86" x2="36.35" y2="257.86" stroke="#444" stroke-width="0.8"/>
<text transform="translate(33.95,260.56) scale(1,1.1)" text-anchor="end" class="ax">12%</text>
<line x1="34.35" y1="236.35" x2="36.35" y2="236.35" stroke="#444" stroke-width="0.8"/>
<text transform="translate(33.95,239.05) scale(1,1.1)" text-anchor="end" class="ax">16%</text>
<line x1="42.58" y1="324.40" x2="42.58" y2="326.40" stroke="#444" stroke-width="0.8"/>
<text transform="translate(42.58,332.60) scale(1,1.1)" text-anchor="middle" class="ax">2000</text>
<line x1="73.74" y1="324.40" x2="73.74" y2="326.40" stroke="#444" stroke-width="0.8"/>
<text transform="translate(73.74,332.60) scale(1,1.1)" text-anchor="middle" class="ax">2005</text>
<line x1="104.90" y1="324.40" x2="104.90" y2="326.40" stroke="#444" stroke-width="0.8"/>
<text transform="translate(104.90,332.60) scale(1,1.1)" text-anchor="middle" class="ax">2010</text>
<line x1="136.06" y1="324.40" x2="136.06" y2="326.40" stroke="#444" stroke-width="0.8"/>
<text transform="translate(136.06,332.60) scale(1,1.1)" text-anchor="middle" class="ax">2015</text>
<line x1="167.22" y1="324.40" x2="167.22" y2="326.40" stroke="#444" stroke-width="0.8"/>
<text transform="translate(167.22,332.60) scale(1,1.1)" text-anchor="middle" class="ax">2020</text>
<text transform="translate(61.15,239.05) scale(1,1.15)" class="eq">y = -0.0018x + 3.5987</text>
<text transform="translate(61.15,249.55) scale(1,1.15)" class="eq">R² = 0.2594</text>
<text x="42.35" y="238.15" class="eq">*</text>
<text x="167.25" y="241.35" text-anchor="end" class="ti">C7</text>
<polygon points="201.72,266.02 203.29,266.60 204.86,267.19 206.43,267.78 208.00,268.36 209.57,268.94 211.14,269.52 212.71,270.10 214.28,270.68 215.84,271.26 217.41,271.83 218.98,272.40 220.55,272.97 222.12,273.54 223.69,274.11 225.26,274.67 226.82,275.23 228.39,275.79 229.96,276.35 231.53,276.90 233.10,277.45 234.67,278.00 236.24,278.54 237.81,279.08 239.38,279.61 240.94,280.14 242.51,280.67 244.08,281.19 245.65,281.70 247.22,282.21 248.79,282.72 250.36,283.21 251.93,283.71 253.49,284.19 255.06,284.67 256.63,285.14 258.20,285.61 259.77,286.07 261.34,286.52 262.91,286.96 264.48,287.39 266.04,287.82 267.61,288.24 269.18,288.66 270.75,289.06 272.32,289.46 273.89,289.85 275.46,290.24 277.02,290.61 278.59,290.99 280.16,291.35 281.73,291.71 283.30,292.06 284.87,292.41 286.44,292.75 288.01,293.09 289.57,293.43 291.14,293.76 292.71,294.08 294.28,294.40 295.85,294.72 297.42,295.03 298.99,295.34 300.56,295.65 302.12,295.96 303.69,296.26 305.26,296.56 306.83,296.85 308.40,297.15 309.97,297.44 311.54,297.73 313.11,298.02 314.05,298.20 314.68,298.31 316.24,298.60 317.81,298.88 319.38,299.16 320.95,299.44 322.52,299.72 324.09,300.00 325.66,300.28 327.23,300.56 327.23,317.60 325.66,317.01 324.09,316.43 322.52,315.84 320.95,315.26 319.38,314.68 317.81,314.10 316.24,313.52 314.68,312.94 314.05,312.71 313.11,312.36 311.54,311.79 309.97,311.22 308.40,310.65 306.83,310.08 305.26,309.51 303.69,308.95 302.12,308.39 300.56,307.83 298.99,307.27 297.42,306.72 295.85,306.17 294.28,305.62 292.71,305.08 291.14,304.54 289.57,304.01 288.01,303.48 286.44,302.95 284.87,302.43 283.30,301.92 281.73,301.41 280.16,300.90 278.59,300.40 277.02,299.91 275.46,299.43 273.89,298.95 272.32,298.48 270.75,298.01 269.18,297.55 267.61,297.10 266.04,296.66 264.48,296.22 262.91,295.80 261.34,295.38 259.77,294.96 258.20,294.56 256.63,294.16 255.06,293.77 253.49,293.38 251.93,293.00 250.36,292.63 248.79,292.27 247.22,291.91 245.65,291.56 244.08,291.21 242.51,290.86 240.94,290.53 239.38,290.19 237.81,289.86 236.24,289.54 234.67,289.22 233.10,288.90 231.53,288.59 229.96,288.28 228.39,287.97 226.82,287.66 225.26,287.36 223.69,287.06 222.12,286.76 220.55,286.47 218.98,286.18 217.41,285.89 215.84,285.60 214.28,285.31 212.71,285.02 211.14,284.74 209.57,284.46 208.00,284.18 206.43,283.90 204.86,283.62 203.29,283.34 201.72,283.06" fill="#d6d6d6"/>
<line x1="201.72" y1="274.54" x2="327.23" y2="309.08" stroke="#d64646" stroke-width="1.3"/>
<polyline points="201.72,288.70 208.00,292.80 214.28,278.20 220.55,289.10 226.82,285.50 233.10,286.60 239.38,271.40 245.65,281.20 251.93,259.10 258.20,267.10 264.48,281.60 270.75,282.10 277.02,304.70 283.30,303.30 289.57,299.70 295.85,303.90 302.12,308.90 308.40,305.40 314.68,312.30 320.95,311.60 327.23,314.80" fill="none" stroke="#1a1a1a" stroke-width="1.0" stroke-linejoin="round"/>
<circle cx="201.72" cy="288.70" r="1.0" fill="#000"/>
<circle cx="208.00" cy="292.80" r="1.0" fill="#000"/>
<circle cx="214.28" cy="278.20" r="1.0" fill="#000"/>
<circle cx="220.55" cy="289.10" r="1.0" fill="#000"/>
<circle cx="226.82" cy="285.50" r="1.0" fill="#000"/>
<circle cx="233.10" cy="286.60" r="1.0" fill="#000"/>
<circle cx="239.38" cy="271.40" r="1.0" fill="#000"/>
<circle cx="245.65" cy="281.20" r="1.0" fill="#000"/>
<circle cx="251.93" cy="259.10" r="1.0" fill="#000"/>
<circle cx="258.20" cy="267.10" r="1.0" fill="#000"/>
<circle cx="264.48" cy="281.60" r="1.0" fill="#000"/>
<circle cx="270.75" cy="282.10" r="1.0" fill="#000"/>
<circle cx="277.02" cy="304.70" r="1.0" fill="#000"/>
<circle cx="283.30" cy="303.30" r="1.0" fill="#000"/>
<circle cx="289.57" cy="299.70" r="1.0" fill="#000"/>
<circle cx="295.85" cy="303.90" r="1.0" fill="#000"/>
<circle cx="302.12" cy="308.90" r="1.0" fill="#000"/>
<circle cx="308.40" cy="305.40" r="1.0" fill="#000"/>
<circle cx="314.68" cy="312.30" r="1.0" fill="#000"/>
<circle cx="320.95" cy="311.60" r="1.0" fill="#000"/>
<circle cx="327.23" cy="314.80" r="1.0" fill="#000"/>
<rect x="195.45" y="228.25" width="138.05" height="96.15" fill="none" stroke="#6a6a6a" stroke-width="1.0"/>
<line x1="193.45" y1="322.40" x2="195.45" y2="322.40" stroke="#444" stroke-width="0.8"/>
<text transform="translate(193.05,325.10) scale(1,1.1)" text-anchor="end" class="ax">0%</text>
<line x1="193.45" y1="300.89" x2="195.45" y2="300.89" stroke="#444" stroke-width="0.8"/>
<text transform="translate(193.05,303.59) scale(1,1.1)" text-anchor="end" class="ax">4%</text>
<line x1="193.45" y1="279.38" x2="195.45" y2="279.38" stroke="#444" stroke-width="0.8"/>
<text transform="translate(193.05,282.07) scale(1,1.1)" text-anchor="end" class="ax">8%</text>
<line x1="193.45" y1="257.86" x2="195.45" y2="257.86" stroke="#444" stroke-width="0.8"/>
<text transform="translate(193.05,260.56) scale(1,1.1)" text-anchor="end" class="ax">12%</text>
<line x1="193.45" y1="236.35" x2="195.45" y2="236.35" stroke="#444" stroke-width="0.8"/>
<text transform="translate(193.05,239.05) scale(1,1.1)" text-anchor="end" class="ax">16%</text>
<line x1="201.72" y1="324.40" x2="201.72" y2="326.40" stroke="#444" stroke-width="0.8"/>
<text transform="translate(201.72,332.60) scale(1,1.1)" text-anchor="middle" class="ax">2000</text>
<line x1="233.10" y1="324.40" x2="233.10" y2="326.40" stroke="#444" stroke-width="0.8"/>
<text transform="translate(233.10,332.60) scale(1,1.1)" text-anchor="middle" class="ax">2005</text>
<line x1="264.48" y1="324.40" x2="264.48" y2="326.40" stroke="#444" stroke-width="0.8"/>
<text transform="translate(264.48,332.60) scale(1,1.1)" text-anchor="middle" class="ax">2010</text>
<line x1="295.85" y1="324.40" x2="295.85" y2="326.40" stroke="#444" stroke-width="0.8"/>
<text transform="translate(295.85,332.60) scale(1,1.1)" text-anchor="middle" class="ax">2015</text>
<line x1="327.23" y1="324.40" x2="327.23" y2="326.40" stroke="#444" stroke-width="0.8"/>
<text transform="translate(327.23,332.60) scale(1,1.1)" text-anchor="middle" class="ax">2020</text>
<text transform="translate(220.25,239.05) scale(1,1.15)" class="eq">y = -0.0032x + 6.4684</text>
<text transform="translate(220.25,249.55) scale(1,1.15)" class="eq">R² = 0.4594</text>
<text x="201.45" y="238.15" class="eq">***</text>
<text x="327.30" y="241.35" text-anchor="end" class="ti">C8</text>
<polygon points="361.75,257.55 363.31,258.31 364.88,259.08 366.44,259.84 368.00,260.59 369.56,261.35 371.12,262.10 372.69,262.85 374.25,263.60 375.81,264.35 377.38,265.09 378.94,265.83 380.50,266.57 382.06,267.30 383.62,268.03 385.19,268.76 386.75,269.48 388.31,270.20 389.88,270.92 391.44,271.63 393.00,272.33 394.56,273.03 396.12,273.73 397.69,274.42 399.25,275.10 400.81,275.77 402.38,276.44 403.94,277.10 405.50,277.75 407.06,278.40 408.62,279.03 410.19,279.66 411.75,280.28 413.31,280.89 414.88,281.48 416.44,282.07 418.00,282.64 419.56,283.21 421.12,283.76 422.69,284.30 424.25,284.83 425.81,285.35 427.38,285.86 428.94,286.36 430.50,286.84 432.06,287.32 433.62,287.78 435.19,288.23 436.75,288.67 438.31,289.10 439.88,289.53 441.44,289.94 443.00,290.34 444.56,290.74 446.12,291.13 447.69,291.51 449.25,291.88 450.81,292.25 452.38,292.61 453.94,292.97 455.50,293.32 457.06,293.66 458.62,294.00 460.19,294.33 461.75,294.66 463.31,294.99 464.88,295.31 466.44,295.63 468.00,295.95 469.56,296.26 471.12,296.57 472.69,296.87 473.62,297.05 473.62,319.31 472.69,318.86 471.12,318.12 469.56,317.38 468.00,316.64 466.44,315.91 464.88,315.18 463.31,314.45 461.75,313.72 460.19,313.01 458.62,312.29 457.06,311.58 455.50,310.88 453.94,310.18 452.38,309.48 450.81,308.79 449.25,308.11 447.69,307.44 446.12,306.77 444.56,306.11 443.00,305.45 441.44,304.81 439.88,304.17 438.31,303.55 436.75,302.93 435.19,302.32 433.62,301.73 432.06,301.14 430.50,300.56 428.94,300.00 427.38,299.45 425.81,298.90 424.25,298.37 422.69,297.86 421.12,297.35 419.56,296.85 418.00,296.37 416.44,295.89 414.88,295.43 413.31,294.98 411.75,294.54 410.19,294.11 408.62,293.68 407.06,293.27 405.50,292.86 403.94,292.47 402.38,292.08 400.81,291.70 399.25,291.33 397.69,290.96 396.12,290.60 394.56,290.24 393.00,289.89 391.44,289.55 389.88,289.21 388.31,288.88 386.75,288.55 385.19,288.22 383.62,287.90 382.06,287.58 380.50,287.26 378.94,286.95 377.38,286.64 375.81,286.34 374.25,286.04 372.69,285.73 371.12,285.44 369.56,285.14 368.00,284.85 366.44,284.56 364.88,284.27 363.31,283.98 361.75,283.69" fill="#d6d6d6"/>
<line x1="361.75" y1="270.62" x2="486.75" y2="312.59" stroke="#d64646" stroke-width="1.3"/>
<polyline points="361.75,293.70 368.00,289.60 374.25,277.60 380.50,273.60 386.75,294.20 393.00,283.40 399.25,243.90 405.50,281.60 411.75,232.10 418.00,276.30 424.25,290.90 430.50,303.30 436.75,307.60 443.00,306.80 449.25,308.40 455.50,308.40 461.75,306.80 468.00,314.50 474.25,308.90 480.50,310.80 486.75,311.30" fill="none" stroke="#1a1a1a" stroke-width="1.0" stroke-linejoin="round"/>
<circle cx="361.75" cy="293.70" r="1.0" fill="#000"/>
<circle cx="368.00" cy="289.60" r="1.0" fill="#000"/>
<circle cx="374.25" cy="277.60" r="1.0" fill="#000"/>
<circle cx="380.50" cy="273.60" r="1.0" fill="#000"/>
<circle cx="386.75" cy="294.20" r="1.0" fill="#000"/>
<circle cx="393.00" cy="283.40" r="1.0" fill="#000"/>
<circle cx="399.25" cy="243.90" r="1.0" fill="#000"/>
<circle cx="405.50" cy="281.60" r="1.0" fill="#000"/>
<circle cx="411.75" cy="232.10" r="1.0" fill="#000"/>
<circle cx="418.00" cy="276.30" r="1.0" fill="#000"/>
<circle cx="424.25" cy="290.90" r="1.0" fill="#000"/>
<circle cx="430.50" cy="303.30" r="1.0" fill="#000"/>
<circle cx="436.75" cy="307.60" r="1.0" fill="#000"/>
<circle cx="443.00" cy="306.80" r="1.0" fill="#000"/>
<circle cx="449.25" cy="308.40" r="1.0" fill="#000"/>
<circle cx="455.50" cy="308.40" r="1.0" fill="#000"/>
<circle cx="461.75" cy="306.80" r="1.0" fill="#000"/>
<circle cx="468.00" cy="314.50" r="1.0" fill="#000"/>
<circle cx="474.25" cy="308.90" r="1.0" fill="#000"/>
<circle cx="480.50" cy="310.80" r="1.0" fill="#000"/>
<circle cx="486.75" cy="311.30" r="1.0" fill="#000"/>
<rect x="355.50" y="228.25" width="137.50" height="96.15" fill="none" stroke="#6a6a6a" stroke-width="1.0"/>
<line x1="353.50" y1="322.40" x2="355.50" y2="322.40" stroke="#444" stroke-width="0.8"/>
<text transform="translate(353.10,325.10) scale(1,1.1)" text-anchor="end" class="ax">0%</text>
<line x1="353.50" y1="300.89" x2="355.50" y2="300.89" stroke="#444" stroke-width="0.8"/>
<text transform="translate(353.10,303.59) scale(1,1.1)" text-anchor="end" class="ax">4%</text>
<line x1="353.50" y1="279.38" x2="355.50" y2="279.38" stroke="#444" stroke-width="0.8"/>
<text transform="translate(353.10,282.07) scale(1,1.1)" text-anchor="end" class="ax">8%</text>
<line x1="353.50" y1="257.86" x2="355.50" y2="257.86" stroke="#444" stroke-width="0.8"/>
<text transform="translate(353.10,260.56) scale(1,1.1)" text-anchor="end" class="ax">12%</text>
<line x1="353.50" y1="236.35" x2="355.50" y2="236.35" stroke="#444" stroke-width="0.8"/>
<text transform="translate(353.10,239.05) scale(1,1.1)" text-anchor="end" class="ax">16%</text>
<line x1="361.75" y1="324.40" x2="361.75" y2="326.40" stroke="#444" stroke-width="0.8"/>
<text transform="translate(361.75,332.60) scale(1,1.1)" text-anchor="middle" class="ax">2000</text>
<line x1="393.00" y1="324.40" x2="393.00" y2="326.40" stroke="#444" stroke-width="0.8"/>
<text transform="translate(393.00,332.60) scale(1,1.1)" text-anchor="middle" class="ax">2005</text>
<line x1="424.25" y1="324.40" x2="424.25" y2="326.40" stroke="#444" stroke-width="0.8"/>
<text transform="translate(424.25,332.60) scale(1,1.1)" text-anchor="middle" class="ax">2010</text>
<line x1="455.50" y1="324.40" x2="455.50" y2="326.40" stroke="#444" stroke-width="0.8"/>
<text transform="translate(455.50,332.60) scale(1,1.1)" text-anchor="middle" class="ax">2015</text>
<line x1="486.75" y1="324.40" x2="486.75" y2="326.40" stroke="#444" stroke-width="0.8"/>
<text transform="translate(486.75,332.60) scale(1,1.1)" text-anchor="middle" class="ax">2020</text>
<text transform="translate(380.30,310.45) scale(1,1.15)" class="eq">R² = 0.3428</text>
<text transform="translate(380.30,320.45) scale(1,1.15)" class="eq">y = -0.0039x + 7.8016</text>
<text x="361.50" y="238.15" class="eq">**</text>
<text x="486.80" y="241.35" text-anchor="end" class="ti">C9</text>
<text x="257" y="348.8" text-anchor="middle" class="lab" style="font-size:15.2px">Year</text>
<text transform="translate(15.0,170.5) rotate(-90)" text-anchor="middle" class="lab">Proportion</text>
</svg>
</body></html>
